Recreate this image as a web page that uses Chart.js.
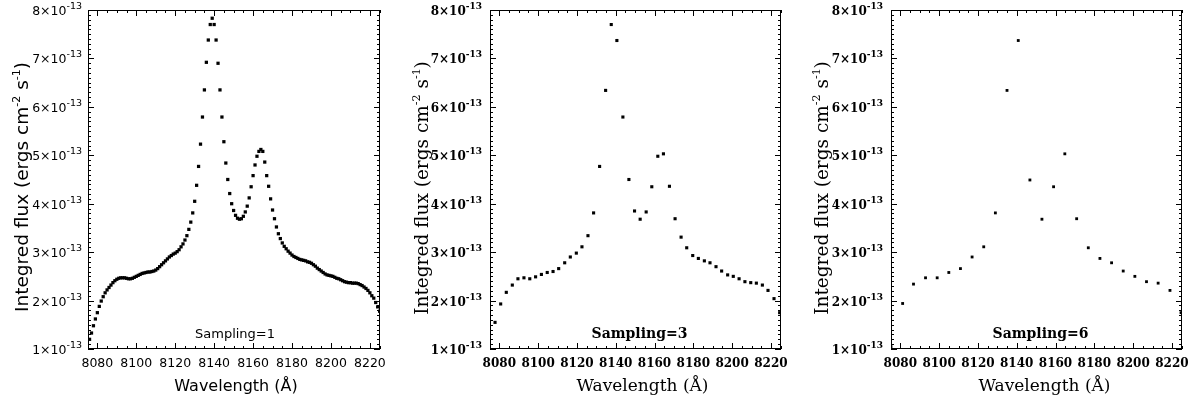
<!DOCTYPE html>
<html>
<head>
<meta charset="utf-8">
<script src="https://cdn.jsdelivr.net/npm/chart.js@4"></script>
<style>
  html, body { margin: 0; padding: 0; background: #fff; }
  #wrap { position: relative; width: 1193px; height: 398px; overflow: hidden; }
  canvas { position: absolute; top: 0; }
</style>
</head>
<body>
<div id="wrap">
  <canvas id="c1" width="400" height="398" style="left:0px"></canvas>
  <canvas id="c2" width="400" height="398" style="left:400px"></canvas>
  <canvas id="c3" width="393" height="398" style="left:800px"></canvas>
</div>
<script>
// Sampling = 1 (wavelength in Angstrom, flux in units of 1e-13 ergs cm^-2 s^-1)
const wave1 = [
  8076, 8077, 8078, 8079, 8080, 8081, 8082, 8083, 8084, 8085,
  8086, 8087, 8088, 8089, 8090, 8091, 8092, 8093, 8094, 8095,
  8096, 8097, 8098, 8099, 8100, 8101, 8102, 8103, 8104, 8105,
  8106, 8107, 8108, 8109, 8110, 8111, 8112, 8113, 8114, 8115,
  8116, 8117, 8118, 8119, 8120, 8121, 8122, 8123, 8124, 8125,
  8126, 8127, 8128, 8129, 8130, 8131, 8132, 8133, 8134, 8135,
  8136, 8137, 8138, 8139, 8140, 8141, 8142, 8143, 8144, 8145,
  8146, 8147, 8148, 8149, 8150, 8151, 8152, 8153, 8154, 8155,
  8156, 8157, 8158, 8159, 8160, 8161, 8162, 8163, 8164, 8165,
  8166, 8167, 8168, 8169, 8170, 8171, 8172, 8173, 8174, 8175,
  8176, 8177, 8178, 8179, 8180, 8181, 8182, 8183, 8184, 8185,
  8186, 8187, 8188, 8189, 8190, 8191, 8192, 8193, 8194, 8195,
  8196, 8197, 8198, 8199, 8200, 8201, 8202, 8203, 8204, 8205,
  8206, 8207, 8208, 8209, 8210, 8211, 8212, 8213, 8214, 8215,
  8216, 8217, 8218, 8219, 8220, 8221, 8222, 8223, 8224, 8225
];
const flux1 = [
  1.20, 1.33, 1.48, 1.62, 1.75, 1.88, 1.99, 2.08, 2.16, 2.22,
  2.27, 2.32, 2.37, 2.41, 2.44, 2.46, 2.47, 2.47, 2.47, 2.46,
  2.45, 2.45, 2.46, 2.48, 2.50, 2.52, 2.54, 2.56, 2.57, 2.58,
  2.59, 2.59, 2.60, 2.61, 2.63, 2.66, 2.70, 2.74, 2.78, 2.82,
  2.86, 2.90, 2.93, 2.96, 2.98, 3.01, 3.05, 3.11, 3.17, 3.25,
  3.34, 3.47, 3.62, 3.81, 4.05, 4.38, 4.77, 5.23, 5.79, 6.35,
  6.92, 7.38, 7.70, 7.83, 7.70, 7.38, 6.90, 6.35, 5.79, 5.28,
  4.84, 4.50, 4.21, 4.00, 3.86, 3.76, 3.70, 3.68, 3.69, 3.74,
  3.83, 3.95, 4.12, 4.35, 4.58, 4.80, 4.98, 5.08, 5.12, 5.08,
  4.86, 4.58, 4.36, 4.10, 3.87, 3.69, 3.52, 3.38, 3.28, 3.19,
  3.12, 3.07, 3.02, 2.98, 2.94, 2.91, 2.89, 2.87, 2.85, 2.84,
  2.83, 2.82, 2.80, 2.79, 2.77, 2.74, 2.71, 2.67, 2.64, 2.61,
  2.58, 2.55, 2.53, 2.52, 2.51, 2.50, 2.48, 2.46, 2.45, 2.43,
  2.41, 2.39, 2.38, 2.37, 2.37, 2.36, 2.36, 2.36, 2.35, 2.33,
  2.31, 2.28, 2.25, 2.21, 2.16, 2.10, 2.05, 1.96, 1.87, 1.78
];

// Sampling = 3
const wave3 = [
  8077.8, 8080.7, 8083.6, 8086.7, 8089.6, 8092.7, 8095.7, 8098.7, 8101.7, 8104.7,
  8107.7, 8110.6, 8113.7, 8116.6, 8119.7, 8122.6, 8125.7, 8128.6, 8131.7, 8134.8,
  8137.7, 8140.6, 8143.7, 8146.8, 8149.7, 8152.6, 8155.7, 8158.6, 8161.7, 8164.6,
  8167.7, 8170.6, 8173.7, 8176.6, 8179.7, 8182.6, 8185.7, 8188.6, 8191.7, 8194.6,
  8197.7, 8200.6, 8203.6, 8206.6, 8209.6, 8212.5, 8215.6, 8218.5, 8221.6, 8224.5
];
const flux3 = [
  1.55, 1.93, 2.17, 2.32, 2.45, 2.47, 2.45, 2.49, 2.54, 2.58,
  2.60, 2.66, 2.78, 2.90, 2.98, 3.11, 3.34, 3.81, 4.77, 6.34,
  7.70, 7.37, 5.79, 4.50, 3.85, 3.68, 3.83, 4.35, 4.98, 5.03,
  4.36, 3.69, 3.31, 3.09, 2.93, 2.87, 2.82, 2.78, 2.70, 2.61,
  2.53, 2.50, 2.45, 2.39, 2.37, 2.36, 2.32, 2.21, 2.04, 1.75
];

// Sampling = 6
const wave6 = [
  8075.2, 8081.2, 8086.8, 8093.0, 8099.0, 8105.0, 8111.0, 8117.0, 8123.0, 8129.0,
  8135.0, 8140.8, 8146.8, 8153.0, 8159.0, 8164.8, 8170.9, 8176.9, 8182.9, 8188.9,
  8194.9, 8200.9, 8206.9, 8212.9, 8219.0, 8224.7
];
const flux6 = [
  1.05, 1.94, 2.34, 2.47, 2.47, 2.58, 2.66, 2.90, 3.11, 3.81,
  6.34, 7.37, 4.49, 3.68, 4.35, 5.03, 3.69, 3.09, 2.87, 2.78,
  2.61, 2.50, 2.39, 2.36, 2.21, 1.75
];

const xTicks = [8080, 8100, 8120, 8140, 8160, 8180, 8200, 8220];
const yTicks = [1, 2, 3, 4, 5, 6, 7, 8];

// draws a string made of [text, font, rise] pieces
function drawRich(ctx, parts, x, y, align) {
    let w = 0;
    parts.forEach(p => { ctx.font = p[1]; w += ctx.measureText(p[0]).width; });
    let cx = align === 'right' ? x - w : (align === 'center' ? x - w / 2 : x);
    ctx.textAlign = 'left';
    parts.forEach(p => {
        ctx.font = p[1];
        ctx.fillText(p[0], cx, y - p[2]);
        cx += ctx.measureText(p[0]).width;
    });
}

// IDL style frame: inward ticks on all four sides, labels, titles
const idlAxes = {
    id: 'idlAxes',
    afterDatasetsDraw(chart, args, o) {
        const { ctx, chartArea: a, scales: { x, y } } = chart;
        ctx.save();
        ctx.strokeStyle = '#000';
        ctx.fillStyle = '#000';
        ctx.lineWidth = 1;
        ctx.strokeRect(a.left + 0.5, a.top + 0.5, a.width - 1, a.height - 1);

        ctx.beginPath();
        for (let v = 8080; v <= x.max; v += 5) {
            const px = Math.round(x.getPixelForValue(v)) + 0.5;
            const len = xTicks.includes(v) ? 6 : 3;
            ctx.moveTo(px, a.bottom); ctx.lineTo(px, a.bottom - len);
            ctx.moveTo(px, a.top); ctx.lineTo(px, a.top + len);
        }
        for (let k = 10; k <= 80; k++) {
            const py = Math.round(y.getPixelForValue(k / 10)) + 0.5;
            const len = k % 10 === 0 ? 6 : 3;
            ctx.moveTo(a.left, py); ctx.lineTo(a.left + len, py);
            ctx.moveTo(a.right, py); ctx.lineTo(a.right - len, py);
        }
        ctx.stroke();

        // x tick labels
        ctx.font = o.tickFont;
        ctx.textAlign = 'center';
        ctx.textBaseline = 'alphabetic';
        xTicks.forEach(v => ctx.fillText(String(v), x.getPixelForValue(v), a.bottom + 18));

        // y tick labels  n×10^-13
        yTicks.forEach(v => {
            const py = y.getPixelForValue(v);
            drawRich(ctx, [[v + '\u00d710', o.tickFont, 0], ['-13', o.supFont, 6]],
                a.left - o.yLabGap, py + 5, 'right');
        });

        // x title
        ctx.font = o.titleFont;
        ctx.textAlign = 'center';
        ctx.fillText('Wavelength (\u00c5)', a.left + a.width / 2 + o.xTitleDx, o.xTitleY);

        // y title (rotated)
        ctx.save();
        ctx.translate(o.yTitleX, o.yTitleY);
        ctx.rotate(-Math.PI / 2);
        drawRich(ctx, [
            ['Integred flux (ergs cm', o.yTitleFont, 0],
            ['-2', o.ySupFont, 8],
            [' s', o.yTitleFont, 0],
            ['-1', o.ySupFont, 8],
            [')', o.yTitleFont, 0]
        ], 0, 0, 'center');
        ctx.restore();

        // sampling note
        ctx.font = o.noteFont;
        ctx.textAlign = 'center';
        ctx.fillText(o.note, a.left + a.width / 2 + o.noteDx, 338);
        ctx.restore();
    }
};

function makePanel(id, wave, flux, pad, radius, opts) {
    const pts = wave.map((w, i) => ({ x: w, y: flux[i] }));
    new Chart(document.getElementById(id).getContext('2d'), {
        type: 'scatter',
        data: {
            datasets: [{
                data: pts,
                pointStyle: 'rect',
                pointRadius: radius,
                pointBorderWidth: 0,
                backgroundColor: '#000',
                borderColor: '#000',
                clip: 0
            }]
        },
        options: {
            responsive: false,
            animation: false,
            events: [],
            layout: { padding: pad },
            plugins: { legend: { display: false }, tooltip: { enabled: false }, idlAxes: opts },
            scales: {
                x: { type: 'linear', min: 8075.2, max: 8225.2, display: false },
                y: { type: 'linear', min: 1, max: 8, display: false }
            }
        },
        plugins: [idlAxes]
    });
}

const sans = '"DejaVu Sans", sans-serif';
const serif = '"DejaVu Serif", serif';

makePanel('c1', wave1, flux1, { left: 88, right: 20, top: 10, bottom: 49 }, 2.3, {
    tickFont: '12.5px ' + sans, supFont: '9.5px ' + sans, yLabGap: 6,
    titleFont: '16px ' + sans, xTitleDx: 2, xTitleY: 391,
    yTitleFont: '18.5px ' + sans, ySupFont: '11px ' + sans, yTitleX: 28, yTitleY: 187,
    noteFont: '13px ' + sans, note: 'Sampling=1', noteDx: 1
});
makePanel('c2', wave3, flux3, { left: 90, right: 19, top: 10, bottom: 49 }, 2.2, {
    tickFont: 'bold 12px ' + serif, supFont: 'bold 9px ' + serif, yLabGap: 8,
    titleFont: '17px ' + serif, xTitleDx: 7, xTitleY: 391,
    yTitleFont: '18.5px ' + serif, ySupFont: '11px ' + serif, yTitleX: 28, yTitleY: 188,
    noteFont: 'bold 14px ' + serif, note: 'Sampling=3', noteDx: 4
});
makePanel('c3', wave6, flux6, { left: 91, right: 11, top: 10, bottom: 49 }, 2.0, {
    tickFont: 'bold 12px ' + serif, supFont: 'bold 9px ' + serif, yLabGap: 8,
    titleFont: '17px ' + serif, xTitleDx: 8, xTitleY: 391,
    yTitleFont: '18.5px ' + serif, ySupFont: '11px ' + serif, yTitleX: 28, yTitleY: 188,
    noteFont: 'bold 14px ' + serif, note: 'Sampling=6', noteDx: 4
});
</script>
</body>
</html>
